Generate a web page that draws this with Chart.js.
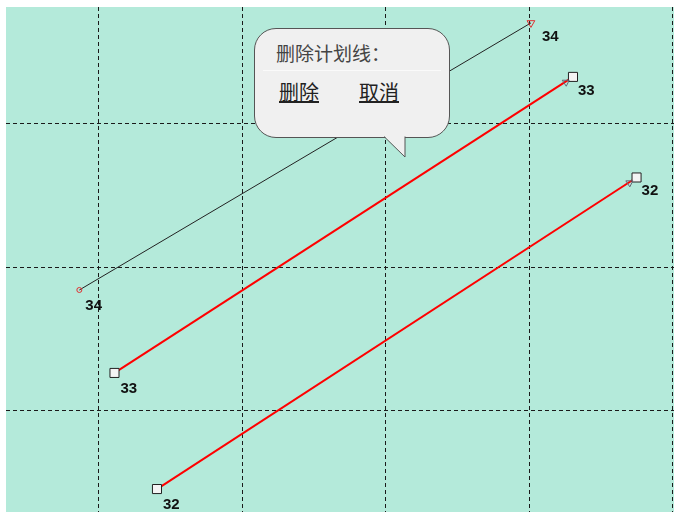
<!DOCTYPE html>
<html>
<head>
<meta charset="utf-8">
<script src="https://cdn.jsdelivr.net/npm/chart.js@4/dist/chart.umd.min.js"></script>
<style>
  body { margin: 0; background: #fff; }
  #wrap { position: relative; width: 674px; height: 512px; }
  #bubble {
    position: absolute; left: 254px; top: 28px; width: 194px; height: 108px;
    background: #f0f0f0; border: 1px solid #555; border-radius: 22px;
    font-family: "Noto Sans CJK SC", sans-serif; color: #333;
  }
  #bubble .title { position: absolute; left: 21px; top: 11px; font-size: 19px; line-height: 26px; color: #444; }
  #bubble .sep { position: absolute; left: 8px; right: 8px; top: 41px; border-top: 1px solid #fafafa; }
  #bubble .btn { position: absolute; top: 50px; font-size: 20px; line-height: 26px; color: #222; text-decoration: underline; }
  #tail { position: absolute; left: 383px; top: 135px; }
</style>
</head>
<body>
<div id="wrap">
  <canvas id="planChart" width="674" height="512"></canvas>
  <div id="bubble">
    <div class="title">删除计划线：</div>
    <div class="sep"></div>
    <div class="btn" style="left:24px">删除</div>
    <div class="btn" style="left:104px">取消</div>
  </div>
  <svg id="tail" width="26" height="26">
    <polygon points="1,1 22,1 22,22" fill="#f0f0f0" />
    <polyline points="1,1.5 22,22 22,1.5" fill="none" stroke="#555" stroke-width="1" />
  </svg>
</div>
<script>
// plan lines: label, start point, end point (grid units)
const lineLabels = ['34', '33', '32'];
const startX = [0.863, 1.108, 1.404];
const startY = [2.157, 2.735, 3.544];
const endX = [4.010, 4.303, 4.746];
const endY = [0.296, 0.672, 1.373];

const datasets = lineLabels.map((lbl, i) => {
    const pts = [{ x: startX[i], y: startY[i] }, { x: endX[i], y: endY[i] }];
    if (i === 0) {
        // thin black line with red markers
        return {
            label: lbl, data: pts, showLine: true,
            borderColor: '#222', borderWidth: 1,
            pointStyle: ['circle', 'triangle'],
            pointRadius: [2.5, 4.5],
            pointRotation: [0, 180],
            pointBorderColor: '#e03030',
            pointBackgroundColor: 'rgba(0,0,0,0)',
            pointBorderWidth: 1
        };
    }
    return {
        label: lbl, data: pts, showLine: true,
        borderColor: '#ff0000', borderWidth: 2,
        pointStyle: 'rect', pointRadius: 6.4,
        pointBorderColor: '#222', pointBackgroundColor: '#f4f4f4',
        pointBorderWidth: 1
    };
});

// mint plot background
const areaBg = {
    id: 'areaBg',
    beforeDraw(chart) {
        const { ctx, chartArea: a } = chart;
        ctx.save();
        ctx.fillStyle = '#b4eada';
        ctx.fillRect(a.left, a.top, a.right - a.left, a.bottom - a.top);
        ctx.restore();
    }
};

// end labels and small arrow heads on the red lines
const lineMarks = {
    id: 'lineMarks',
    afterDatasetsDraw(chart) {
        const ctx = chart.ctx;
        ctx.save();
        ctx.font = 'bold 15px "Liberation Sans", Arial, sans-serif';
        ctx.fillStyle = '#111';
        ctx.textAlign = 'left';
        ctx.textBaseline = 'top';
        chart.data.datasets.forEach((ds, i) => {
            const pts = chart.getDatasetMeta(i).data;
            const p0 = pts[0], p1 = pts[1];
            ctx.fillText(ds.label, p0.x + 6, p0.y + 8);
            ctx.fillText(ds.label, p1.x + (i === 0 ? 11 : 5), p1.y + 6);
            if (i > 0) {
                const ang = Math.atan2(p1.y - p0.y, p1.x - p0.x);
                const cx = p1.x - 8 * Math.cos(ang), cy = p1.y - 8 * Math.sin(ang) + 2;
                ctx.beginPath();
                ctx.moveTo(cx - 4, cy - 3);
                ctx.lineTo(cx + 3, cy - 3);
                ctx.lineTo(cx, cy + 3);
                ctx.closePath();
                ctx.strokeStyle = '#667';
                ctx.lineWidth = 1;
                ctx.stroke();
            }
        });
        ctx.restore();
    }
};

const gridAxis = (min, max, reverse) => ({
    type: 'linear', min: min, max: max, reverse: reverse,
    ticks: { display: false, stepSize: 1, includeBounds: false },
    grid: { color: '#1a1a1a', lineWidth: 1, drawTicks: false },
    border: { display: false, dash: [4, 3] }
});

new Chart(document.getElementById('planChart').getContext('2d'), {
    type: 'scatter',
    data: { datasets: datasets },
    options: {
        responsive: false,
        animation: false,
        layout: { autoPadding: false, padding: { left: 6, top: 7, right: 0, bottom: 0 } },
        plugins: { legend: { display: false }, tooltip: { enabled: false } },
        scales: {
            x: gridAxis(0.352, 5.007, false),
            y: gridAxis(0.185, 3.704, true)
        }
    },
    plugins: [areaBg, lineMarks]
});
</script>
</body>
</html>
